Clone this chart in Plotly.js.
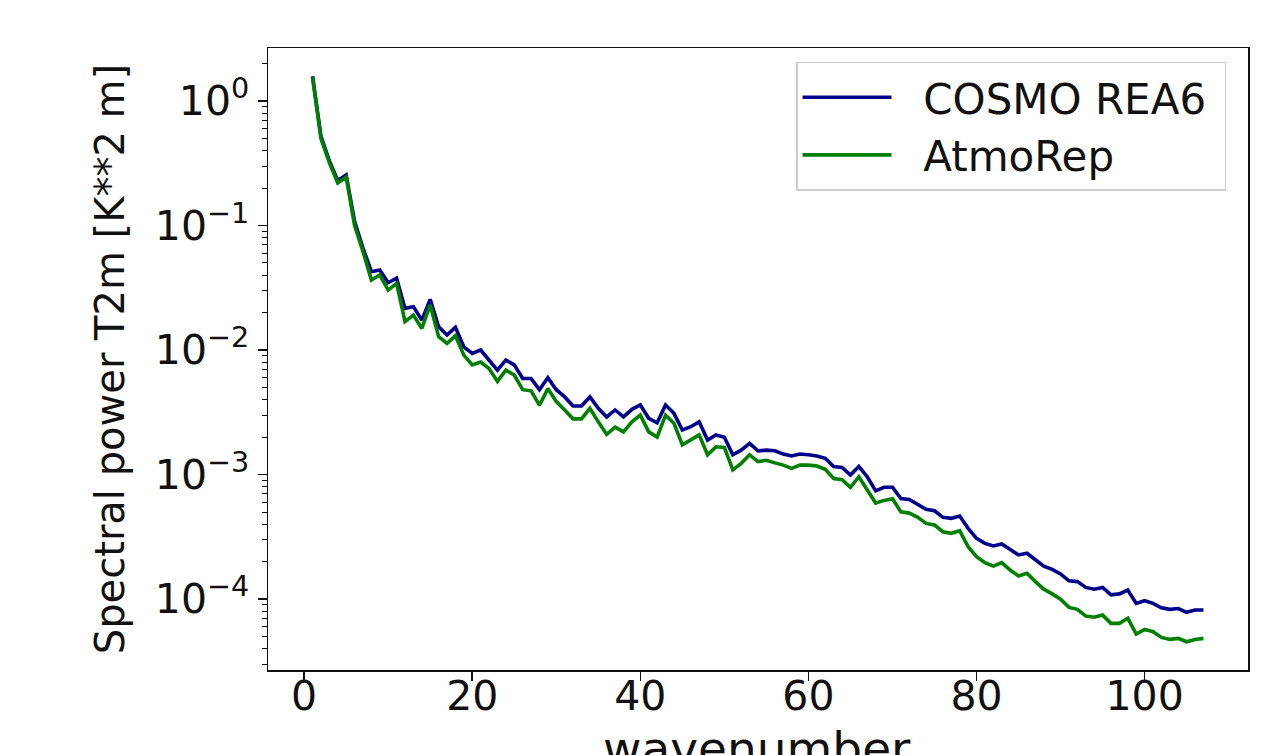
<!DOCTYPE html>
<html>
<head>
<meta charset="utf-8">
<script src="https://cdn.plot.ly/plotly-3.0.1.min.js"></script>
<style>
  html, body { margin: 0; padding: 0; background: #fff; }
  #chart { width: 1285px; height: 755px; }
</style>
</head>
<body>
<div id="chart"></div>
<script>
const wavenumber = [1,2,3,4,5,6,7,8,9,10,11,12,13,14,15,16,17,18,19,20,21,22,23,24,25,26,27,28,29,30,31,32,33,34,35,36,37,38,39,40,41,42,43,44,45,46,47,48,49,50,51,52,53,54,55,56,57,58,59,60,61,62,63,64,65,66,67,68,69,70,71,72,73,74,75,76,77,78,79,80,81,82,83,84,85,86,87,88,89,90,91,92,93,94,95,96,97,98,99,100,101,102,103,104,105,106,107];

const cosmoRea6 = [1.58,0.52,0.33,0.23,0.255,0.108,0.066,0.0426,0.044,0.0347,
  0.0377,0.0216,0.0223,0.0174,0.0255,0.0154,0.0132,0.0152,0.0106,0.0094,
  0.0100,0.0084,0.0069,0.0083,0.0076,0.0059,0.0059,0.0048,0.0060,0.0048,
  0.0042,0.00355,0.00355,0.0042,0.0034,0.0029,0.0033,0.0029,0.00334,0.00362,
  0.00283,0.0026,0.00362,0.0031,0.00228,0.00242,0.00265,0.00189,0.00208,0.00199,
  0.00144,0.00157,0.00178,0.00155,0.00157,0.00155,0.00146,0.00141,0.00146,0.00144,
  0.00141,0.00135,0.00116,0.00114,0.00099,0.00116,0.00096,0.00074,0.00079,0.00079,
  0.00064,0.00063,0.00058,0.000525,0.000512,0.000453,0.000445,0.000464,0.00037,0.000307,
  0.00028,0.000267,0.000277,0.000248,0.000226,0.000233,0.000206,0.000184,0.000173,0.000159,
  0.00014,0.000138,0.000124,0.00012,0.000124,0.000108,0.00011,0.000118,0.0000923,0.0000969,
  0.0000923,0.0000851,0.0000826,0.0000839,0.0000782,0.0000816,0.0000816];

const atmoRep = [1.55,0.50,0.32,0.22,0.245,0.100,0.062,0.0365,0.040,0.0303,
  0.0343,0.0169,0.0191,0.0149,0.0230,0.0128,0.0113,0.0130,0.0091,0.0076,
  0.0080,0.0071,0.0056,0.0069,0.0063,0.0048,0.0047,0.0036,0.0049,0.00385,
  0.0033,0.0028,0.0028,0.0034,0.00265,0.0021,0.0024,0.0022,0.00265,0.0030,
  0.0022,0.0020,0.0030,0.00258,0.00173,0.00189,0.00208,0.00144,0.00167,0.00165,
  0.00109,0.00123,0.00144,0.00127,0.0013,0.00124,0.00119,0.00112,0.00119,0.00119,
  0.00117,0.0011,0.00093,0.00091,0.00079,0.00096,0.00075,0.00059,0.00062,0.00064,
  0.000502,0.00049,0.000453,0.000405,0.000393,0.000347,0.000337,0.000354,0.000263,0.000219,
  0.000196,0.000184,0.000196,0.000171,0.000153,0.000161,0.000138,0.00012,0.00011,0.0000996,
  0.0000857,0.0000826,0.000073,0.0000714,0.0000743,0.0000638,0.0000638,0.00007,0.0000524,0.0000571,
  0.0000546,0.0000492,0.0000474,0.0000483,0.0000454,0.0000474,0.0000483];

const seriesNames = ["COSMO REA6", "AtmoRep"];
const xTickVals = [0, 20, 40, 60, 80, 100];
const yTickVals = [1, 0.1, 0.01, 0.001, 0.0001];
const yTickText = ["10<sup>0</sup>", "10<sup>\u22121</sup>", "10<sup>\u22122</sup>", "10<sup>\u22123</sup>", "10<sup>\u22124</sup>"];
const xTitle = "wavenumber";
const yTitle = "Spectral power T2m [K**2 m]";

const minorVals = [];
for (let e = -5; e <= 0; e++) {
  for (let d = 2; d <= 9; d++) minorVals.push(d * Math.pow(10, e));
}

const font = "DejaVu Sans, sans-serif";
const ink = "#111111";
const pad = "\u00a0\u00a0";

const traces = [
  { x: wavenumber, y: cosmoRea6, name: pad + seriesNames[0] + "\u00a0", type: "scatter", mode: "lines",
    line: { color: "#00008b", width: 3.6 } },
  { x: wavenumber, y: atmoRep, name: pad + seriesNames[1], type: "scatter", mode: "lines",
    line: { color: "#008000", width: 3.6 } }
];

const layout = {
  width: 1285, height: 755,
  margin: { l: 268, r: 37, t: 48, b: 85 },
  paper_bgcolor: "#ffffff", plot_bgcolor: "#ffffff",
  font: { family: font, size: 40, color: ink },
  showlegend: true,
  legend: {
    x: 0.9776, xanchor: "right", y: 0.9775, yanchor: "top",
    bgcolor: "rgba(255,255,255,0.85)", bordercolor: "#cccccc", borderwidth: 1.5,
    font: { family: font, size: 42, color: ink },
    itemwidth: 89, tracegroupgap: 0
  },
  xaxis: {
    range: [-4.3, 112.3], tickvals: xTickVals, ticktext: xTickVals.map(String),
    ticks: "outside", ticklen: 9, tickwidth: 1.5, tickcolor: ink,
    ticklabelstandoff: -20,
    showline: true, mirror: true, linecolor: ink, linewidth: 1.5,
    showgrid: false, zeroline: false,
    tickfont: { family: font, size: 41, color: ink }
  },
  yaxis: {
    type: "log", range: [-4.570, 0.4257],
    tickvals: yTickVals, ticktext: yTickText,
    ticks: "outside", ticklen: 9, tickwidth: 1.5, tickcolor: ink,
    showline: true, mirror: true, linecolor: ink, linewidth: 1.5,
    showgrid: false, zeroline: false,
    tickfont: { family: font, size: 41, color: ink },
    minor: { tickvals: minorVals, ticks: "outside", ticklen: 5, tickwidth: 1, tickcolor: ink, showgrid: false },
    title: { text: yTitle, font: { family: font, size: 40, color: ink }, standoff: 18 }
  },
  annotations: [
    { text: xTitle, xref: "paper", yref: "paper", x: 0.499, y: -0.127,
      xanchor: "center", yanchor: "middle", showarrow: false,
      font: { family: font, size: 47, color: ink } }
  ]
};

Plotly.newPlot("chart", traces, layout, { staticPlot: true, displayModeBar: false });
</script>
</body>
</html>
